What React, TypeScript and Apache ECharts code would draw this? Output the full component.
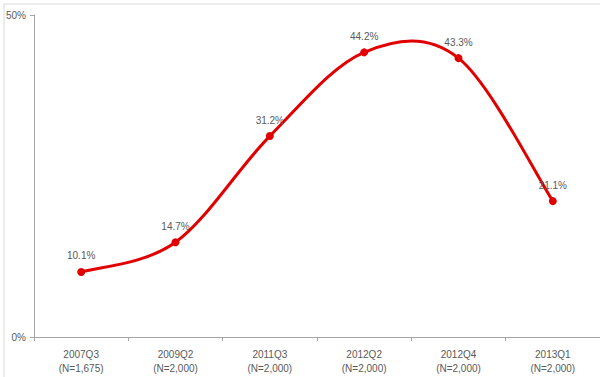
import React, { useEffect, useRef } from "react";
import * as echarts from "echarts";

const categories = ["2007Q3\n(N=1,675)", "2009Q2\n(N=2,000)", "2011Q3\n(N=2,000)", "2012Q2\n(N=2,000)", "2012Q4\n(N=2,000)", "2013Q1\n(N=2,000)"];
const values = [10.1, 14.7, 31.2, 44.2, 43.3, 21.1];
const yTicks = [0, 50];

const RED = "#e00000";

export default function App() {
  const ref = useRef<HTMLDivElement>(null);
  useEffect(() => {
    const chart = echarts.init(ref.current!, null, { renderer: "svg" });
    chart.setOption({
      animation: false,
      backgroundColor: "#fff",
      graphic: [
        { type: "rect", shape: { x: 4, y: 4, width: 610, height: 390 }, style: { fill: "none", stroke: "#d9d9d9", lineWidth: 1 }, silent: true },
      ],
      grid: { left: 34, right: -2, top: 15, bottom: 40 },
      xAxis: {
        type: "category",
        data: categories,
        boundaryGap: true,
        axisLine: { lineStyle: { color: "#a6a6a6", width: 1 } },
        axisTick: { show: true, length: 4, lineStyle: { color: "#a6a6a6" } },
        axisLabel: { color: "#595959", fontSize: 10, fontFamily: "Liberation Sans, Arial", lineHeight: 14, margin: 10, interval: 0 },
      },
      yAxis: {
        type: "value",
        min: 0,
        max: 50,
        interval: 50,
        splitLine: { show: false },
        axisLine: { show: true, lineStyle: { color: "#a6a6a6", width: 1 } },
        axisTick: { show: true, length: 4, lineStyle: { color: "#a6a6a6" } },
        axisLabel: {
          color: "#595959",
          fontSize: 10,
          fontFamily: "Liberation Sans, Arial",
          margin: 8,
          formatter: (v: number) => (yTicks.includes(v) ? v + "%" : ""),
        },
      },
      series: [
        {
          type: "custom",
          data: values.map((v, i) => [i, v]),
          z: 2,
          silent: true,
          renderItem: (params: any, api: any) => {
            if (params.dataIndex !== 0) return { type: "group", children: [] };
            const pts = values.map((v, i) => api.coord([i, v]));
            const n = pts.length;
            let d = `M${pts[0][0]},${pts[0][1]}`;
            for (let i = 0; i < n - 1; i++) {
              const p0 = pts[Math.max(0, i - 1)];
              const p1 = pts[i];
              const p2 = pts[i + 1];
              const p3 = pts[Math.min(n - 1, i + 2)];
              const c1x = p1[0] + (p2[0] - p0[0]) / 6;
              const c1y = p1[1] + (p2[1] - p0[1]) / 6;
              const c2x = p2[0] - (p3[0] - p1[0]) / 6;
              const c2y = p2[1] - (p3[1] - p1[1]) / 6;
              d += ` C${c1x},${c1y} ${c2x},${c2y} ${p2[0]},${p2[1]}`;
            }
            return {
              type: "path",
              shape: { pathData: d },
              style: { fill: "none", stroke: RED, lineWidth: 3, lineJoin: "round", lineCap: "round" },
            };
          },
        },
        {
          type: "line",
          data: values,
          z: 3,
          symbol: "circle",
          symbolSize: 8,
          lineStyle: { width: 0, opacity: 0 },
          itemStyle: { color: RED },
          label: {
            show: true,
            position: "top",
            distance: 7,
            color: "#595959",
            fontSize: 10,
            fontFamily: "Liberation Sans, Arial",
            formatter: (p: any) => p.value.toFixed(1) + "%",
          },
        },
      ],
    });
    return () => chart.dispose();
  }, []);
  return <div ref={ref} style={{ width: 600, height: 377, position: "absolute", left: 0, top: 0 }} />;
}
